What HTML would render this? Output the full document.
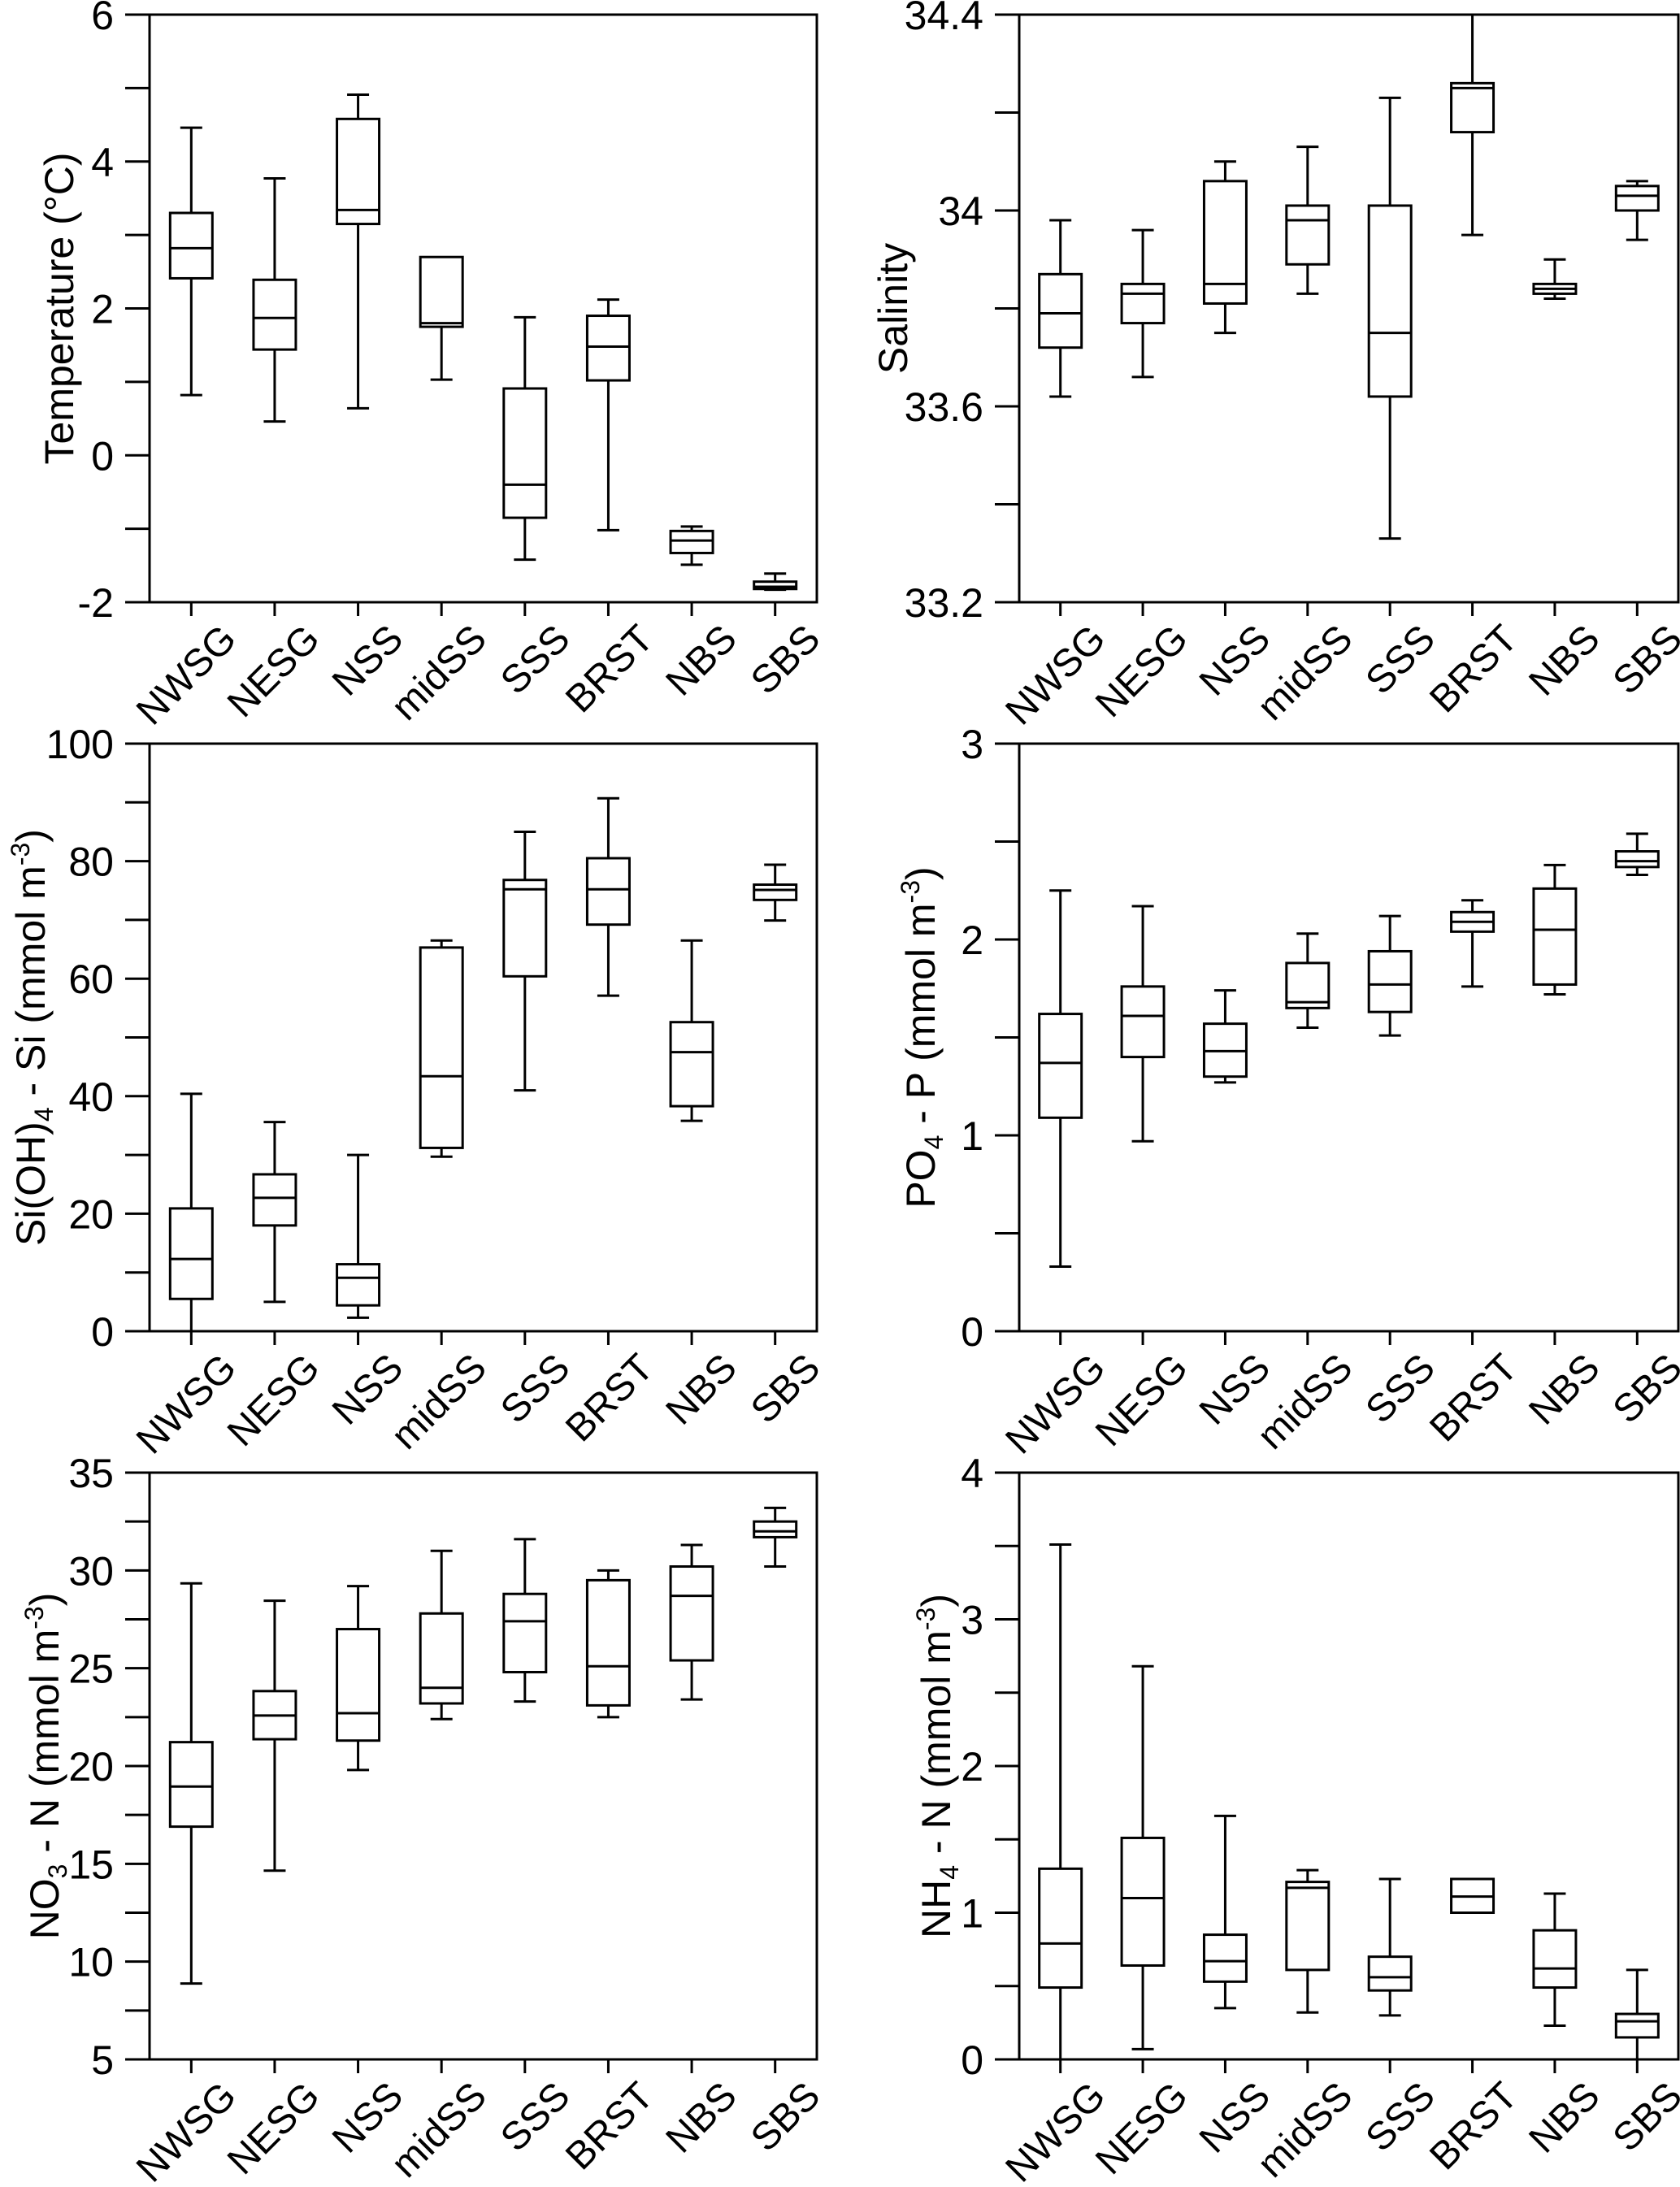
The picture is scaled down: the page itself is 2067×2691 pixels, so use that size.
<!DOCTYPE html>
<html><head><meta charset="utf-8">
<style>
html,body{margin:0;padding:0;background:#fff;}
svg{display:block;}
text{font-family:"Liberation Sans",Arial,sans-serif;fill:#000;}
</style></head>
<body>
<svg id="fig" xmlns="http://www.w3.org/2000/svg" width="2067" height="2691" viewBox="0 0 2067 2691"></svg>
<script>
const categories = ["NWSG","NESG","NSS","midSS","SSS","BRST","NBS","SBS"];

const tempMin = [0.82,0.46,0.64,1.03,-1.42,-1.02,-1.49,-1.83];
const tempQ1  = [2.41,1.44,3.15,1.75,-0.85,1.02,-1.33,-1.82];
const tempMed = [2.82,1.87,3.34,1.80,-0.40,1.48,-1.16,-1.79];
const tempQ3  = [3.30,2.39,4.58,2.70,0.91,1.90,-1.03,-1.72];
const tempMax = [4.46,3.77,4.91,2.70,1.88,2.12,-0.97,-1.61];
const tempTicks = ["-2","0","2","4","6"];

const salMin = [33.62,33.66,33.75,33.83,33.33,33.95,33.82,33.94];
const salQ1  = [33.72,33.77,33.81,33.89,33.62,34.16,33.83,34.00];
const salMed = [33.79,33.83,33.85,33.98,33.75,34.25,33.84,34.03];
const salQ3  = [33.87,33.85,34.06,34.01,34.01,34.26,33.85,34.05];
const salMax = [33.98,33.96,34.10,34.13,34.23,34.40,33.90,34.06];
const salTicks = ["33.2","33.6","34","34.4"];

const siMin = [0,5.0,2.3,29.7,41.0,57.1,35.8,69.9];
const siQ1  = [5.5,18.0,4.4,31.2,60.4,69.2,38.3,73.4];
const siMed = [12.3,22.7,9.1,43.4,75.2,75.2,47.5,75.1];
const siQ3  = [20.9,26.7,11.4,65.3,76.8,80.5,52.6,76.0];
const siMax = [40.4,35.6,30.0,66.5,85.0,90.7,66.5,79.4];
const siTicks = ["0","20","40","60","80","100"];

const poMin = [0.33,0.97,1.27,1.55,1.51,1.76,1.72,2.33];
const poQ1  = [1.09,1.40,1.30,1.65,1.63,2.04,1.77,2.37];
const poMed = [1.37,1.61,1.43,1.68,1.77,2.09,2.05,2.40];
const poQ3  = [1.62,1.76,1.57,1.88,1.94,2.14,2.26,2.45];
const poMax = [2.25,2.17,1.74,2.03,2.12,2.20,2.38,2.54];
const poTicks = ["0","1","2","3"];

const noMin = [8.88,14.65,19.8,22.4,23.3,22.5,23.4,30.2];
const noQ1  = [16.9,21.37,21.3,23.2,24.8,23.1,25.4,31.7];
const noMed = [18.95,22.58,22.7,24.0,27.4,25.1,28.7,32.0];
const noQ3  = [21.22,23.83,27.0,27.8,28.8,29.5,30.2,32.5];
const noMax = [29.34,28.45,29.2,31.0,31.6,30.0,31.3,33.2];
const noTicks = ["5","10","15","20","25","30","35"];

const nhMin = [0.0,0.07,0.35,0.32,0.30,1.00,0.23,0.0];
const nhQ1  = [0.49,0.64,0.53,0.61,0.47,1.00,0.49,0.15];
const nhMed = [0.79,1.10,0.67,1.17,0.56,1.11,0.62,0.26];
const nhQ3  = [1.30,1.51,0.85,1.21,0.70,1.23,0.88,0.31];
const nhMax = [3.51,2.68,1.66,1.29,1.23,1.23,1.13,0.61];
const nhTicks = ["0","1","2","3","4"];

const NS = "http://www.w3.org/2000/svg";
const svg = document.getElementById('fig');
function mk(tag, attrs, parent){
  const e = document.createElementNS(NS, tag);
  for (const k in attrs) e.setAttribute(k, attrs[k]);
  (parent||svg).appendChild(e);
  return e;
}

const panels = [
  {id:'temperature', x0:184, x1:1005, y0:18, y1:741, min:-2, max:6, minor:1, ticks:tempTicks,
   d:[tempMin,tempQ1,tempMed,tempQ3,tempMax], titleX:73,
   title:[["Temperature (°C)",0]]},
  {id:'salinity', x0:1254, x1:2065, y0:18, y1:741, min:33.2, max:34.4, minor:0.2, ticks:salTicks,
   d:[salMin,salQ1,salMed,salQ3,salMax], titleX:1099, title:[["Salinity",0]]},
  {id:'silicate', x0:184, x1:1005, y0:915, y1:1638, min:0, max:100, minor:10, ticks:siTicks,
   d:[siMin,siQ1,siMed,siQ3,siMax], titleX:38,
   title:[["Si(OH)",0],["4",-1],[" - Si (mmol m",0],["-3",1],[")",0]]},
  {id:'phosphate', x0:1254, x1:2065, y0:915, y1:1638, min:0, max:3, minor:0.5, ticks:poTicks,
   d:[poMin,poQ1,poMed,poQ3,poMax], titleX:1133,
   title:[["PO",0],["4",-1],[" - P (mmol m",0],["-3",1],[")",0]]},
  {id:'nitrate', x0:184, x1:1005, y0:1812, y1:2534, min:5, max:35, minor:2.5, ticks:noTicks,
   d:[noMin,noQ1,noMed,noQ3,noMax], titleX:55,
   title:[["NO",0],["3",-1],[" - N (mmol m",0],["-3",1],[")",0]]},
  {id:'ammonium', x0:1254, x1:2065, y0:1812, y1:2534, min:0, max:4, minor:0.5, ticks:nhTicks,
   d:[nhMin,nhQ1,nhMed,nhQ3,nhMax], titleX:1152,
   title:[["NH",0],["4",-1],[" - N (mmol m",0],["-3",1],[")",0]]}
];

panels.forEach(p => {
  const g = mk('g', {});
  
  
  const yS = v => p.y1 - (v - p.min) / (p.max - p.min) * (p.y1 - p.y0);
  const slot = (p.x1 - p.x0) / categories.length;
  const xS = i => p.x0 + slot * (i + 0.5);

  const fr = mk('rect', {x:p.x0, y:p.y0, width:p.x1-p.x0, height:p.y1-p.y0, fill:'none', stroke:'#000', 'stroke-width':3}, g);
  
  

  const nMinor = Math.round((p.max - p.min) / p.minor);
  for (let k = 0; k <= nMinor; k++) {
    const v = p.min + k * p.minor;
    const t = mk('line', {x1:p.x0-30, x2:p.x0, y1:yS(v), y2:yS(v), stroke:'#000', 'stroke-width':3}, g);
    
    
  }
  p.ticks.forEach(lbl => {
    const v = parseFloat(lbl);
    const t = mk('text', {x:p.x0-44, y:yS(v)+18, 'text-anchor':'end', 'font-size':50}, g);
    t.textContent = lbl;
    
    
  });

  const cy = (p.y0 + p.y1) / 2;
  const tt = mk('text', {x:p.titleX, y:cy, 'text-anchor':'middle', 'font-size':50,
    transform:'rotate(-90 ' + p.titleX + ' ' + cy + ')', dy:17}, g);
  
  
  p.title.forEach(([s, sh]) => {
    const ts = mk('tspan', {}, tt);
    if (sh !== 0) {
      ts.setAttribute('font-size', 32);
      ts.setAttribute('baseline-shift', sh > 0 ? '60%' : '-30%');
    }
    ts.textContent = s;
  });

  categories.forEach((c, i) => {
    const x = xS(i);
    const t = mk('line', {x1:x, x2:x, y1:p.y1, y2:p.y1+17, stroke:'#000', 'stroke-width':3}, g);
    
    
    const lx = x + 58, ly = p.y1 + 48;
    const l = mk('text', {x:lx, y:ly, 'text-anchor':'end', 'font-size':48,
      transform:'rotate(-45 ' + lx + ' ' + ly + ')'}, g);
    l.textContent = c;
    
    

    const [mn, q1, md, q3, mx] = p.d.map(a => a[i]);
    const bw = 52, cw = 27;
    const bg = mk('g', {stroke:'#000', 'stroke-width':3, fill:'none'}, g);
    
    
    mk('line', {x1:x, x2:x, y1:yS(q3), y2:yS(mx)}, bg);
    mk('line', {x1:x, x2:x, y1:yS(q1), y2:yS(mn)}, bg);
    if (mx > q3) mk('line', {x1:x-cw/2, x2:x+cw/2, y1:yS(mx), y2:yS(mx)}, bg);
    if (mn < q1) mk('line', {x1:x-cw/2, x2:x+cw/2, y1:yS(mn), y2:yS(mn)}, bg);
    mk('rect', {x:x-bw/2, y:yS(q3), width:bw, height:Math.max(0, yS(q1)-yS(q3)), fill:'#fff'}, bg);
    mk('line', {x1:x-bw/2, x2:x+bw/2, y1:yS(md), y2:yS(md)}, bg);
  });
});
</script>
</body></html>
